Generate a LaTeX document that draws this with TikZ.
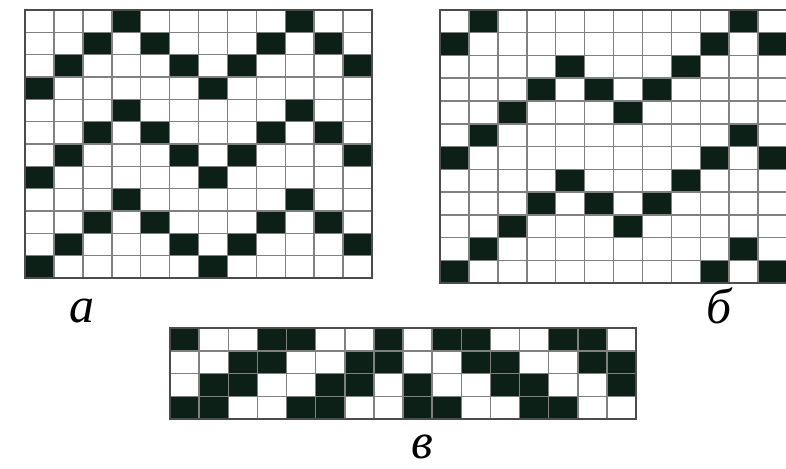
\documentclass[tikz,border=0pt]{standalone}
\usepackage{fontspec}
\setmainfont{Liberation Serif}
\definecolor{cellink}{RGB}{12,32,24}

\begin{document}
\begin{tikzpicture}[x=1pt,y=-1pt,
  rule/.style={draw=black!50,line width=1.5pt},
  frame/.style={draw=black!70,line width=2pt},
  tag/.style={font=\fontsize{50}{50}\selectfont\itshape,anchor=base,inner sep=0pt}]
  \useasboundingbox[fill=white] (0,0) rectangle (786,468);

  % grid a
  \begin{scope}[shift={(25,10)},x=28.92pt,y=-22.33pt]
    \foreach \r/\cs in {1/{4,10},2/{3,5,9,11},3/{2,6,8,12},4/{1,7},
                        5/{4,10},6/{3,5,9,11},7/{2,6,8,12},8/{1,7},
                        9/{4,10},10/{3,5,9,11},11/{2,6,8,12},12/{1,7}}
      \foreach \c in \cs
        \fill[cellink] (\c-1,\r-1) rectangle (\c,\r);
    \foreach \i in {1,...,11} {
      \draw[rule] (\i,0) -- (\i,12);
      \draw[rule] (0,\i) -- (12,\i);
    }
    \draw[frame] (0,0) rectangle (12,12);
  \end{scope}

  % grid b
  \begin{scope}[shift={(440,10)},x=28.92pt,y=-22.75pt]
    \foreach \r/\cs in {1/{2,11},2/{1,10,12},3/{5,9},4/{4,6,8},5/{3,7},
                        6/{2,11},7/{1,10,12},8/{5,9},9/{4,6,8},10/{3,7},
                        11/{2,11},12/{1,10,12}}
      \foreach \c in \cs
        \fill[cellink] (\c-1,\r-1) rectangle (\c,\r);
    \foreach \i in {1,...,11} {
      \draw[rule] (\i,0) -- (\i,12);
      \draw[rule] (0,\i) -- (12,\i);
    }
    \draw[frame] (0,0) rectangle (12,12);
  \end{scope}

  % grid v
  \begin{scope}[shift={(170,328)},x=29.125pt,y=-22.75pt]
    \foreach \r/\cs in {1/{1,4,5,8,10,11,14,15},2/{3,4,7,8,11,12,15,16},
                        3/{2,3,6,7,9,12,13,16},4/{1,2,5,6,9,10,13,14}}
      \foreach \c in \cs
        \fill[cellink] (\c-1,\r-1) rectangle (\c,\r);
    \foreach \i in {1,...,15}
      \draw[rule] (\i,0) -- (\i,4);
    \foreach \i in {1,2,3}
      \draw[rule] (0,\i) -- (16,\i);
    \draw[frame] (0,0) rectangle (16,4);
  \end{scope}

  \node[tag] (tagA) at (82,322) {а};
  \node[tag] (tagB) at (719,323) {б};
  \node[tag] (tagV) at (422,458) {в};
\end{tikzpicture}
\end{document}
